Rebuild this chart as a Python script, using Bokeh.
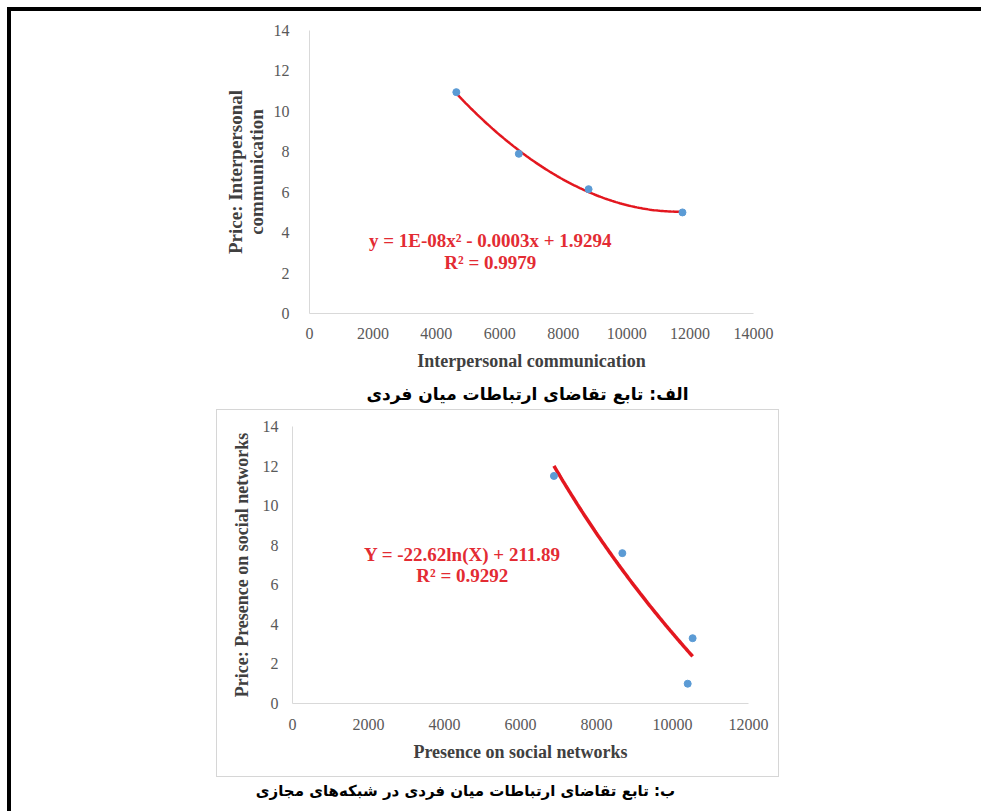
import numpy as np
from bokeh.plotting import figure
from bokeh.models import Range1d, FixedTicker, Label, Div, Spacer
from bokeh.layouts import column, row
from bokeh.core.properties import value
from bokeh.embed import file_html
from bokeh.resources import INLINE

# ---- (a) demand for interpersonal communication ----
comm_qty = [4630, 6600, 8800, 11760]
comm_price = [10.95, 7.9, 6.15, 5.0]
comm_x_ticks = [0, 2000, 4000, 6000, 8000, 10000, 12000, 14000]
comm_y_ticks = [0, 2, 4, 6, 8, 10, 12, 14]
comm_eq = "y = 1E-08x\u00b2 - 0.0003x + 1.9294"
comm_r2 = "R\u00b2 = 0.9979"
comm_caption = "الف: تابع تقاضای ارتباطات میان فردی"

# ---- (b) demand for presence on social networks ----
net_qty = [6880, 8680, 10530, 10400]
net_price = [11.5, 7.6, 3.3, 1.0]
net_log_coef = (-22.62, 211.89)
net_x_ticks = [0, 2000, 4000, 6000, 8000, 10000, 12000]
net_y_ticks = [0, 2, 4, 6, 8, 10, 12, 14]
net_eq = "Y = -22.62ln(X) + 211.89"
net_r2 = "R\u00b2 = 0.9292"
net_caption = "ب: تابع تقاضای ارتباطات میان فردی در شبکه\u200cهای مجازی"

SERIF = "Liberation Serif"
RED = "#e3171f"
EQ_RED = "#e32b33"
BLUE = "#5b9bd5"


def style_axes(p, x_std, y_std, xl_std, yl_std):
    p.xgrid.visible = False
    p.ygrid.visible = False
    p.outline_line_color = None
    for ax in p.axis:
        ax.axis_line_color = "#d9d9d9"
        ax.major_tick_line_color = None
        ax.minor_tick_line_color = None
        ax.major_label_text_font = SERIF
        ax.major_label_text_font_size = "16px"
        ax.major_label_text_color = "#595959"
        ax.axis_label_text_font = SERIF
        ax.axis_label_text_font_style = "bold"
        ax.axis_label_text_font_size = "18px"
        ax.axis_label_text_color = "#404040"
    p.xaxis.major_label_standoff = x_std
    p.yaxis.major_label_standoff = y_std
    p.xaxis.axis_label_standoff = xl_std
    p.yaxis.axis_label_standoff = yl_std


def caption_fig(text, size):
    c = figure(frame_width=600, frame_height=26, min_border=0,
               x_range=Range1d(0, 1), y_range=Range1d(0, 1),
               x_axis_location=None, y_axis_location=None,
               output_backend="svg", toolbar_location=None)
    c.xgrid.visible = False
    c.ygrid.visible = False
    c.outline_line_color = None
    c.text(x=[0.5], y=[0.5], text=[text], text_align="center",
           text_baseline="middle", text_font=value("DejaVu Sans"),
           text_font_style="bold", text_font_size=size, text_color="black")
    return c


# ---- chart (a) ----
p1 = figure(frame_width=444, frame_height=283,
            min_border_left=298, min_border_right=228,
            min_border_top=19, min_border_bottom=67,
            x_range=Range1d(0, 14000), y_range=Range1d(0, 14),
            output_backend="svg", toolbar_location=None)
style_axes(p1, 8, 14, 9, 4)
p1.xaxis.ticker = FixedTicker(ticks=comm_x_ticks)
p1.yaxis.ticker = FixedTicker(ticks=comm_y_ticks)
p1.xaxis.axis_label = "Interpersonal communication"
p1.yaxis.axis_label = "Price: Interpersonal\ncommunication"
p1.yaxis.axis_label_text_font_size = "19px"
p1.yaxis.axis_label_text_line_height = 1.0

# polynomial (order 2) trendline fitted to the observations
coef = np.polyfit(comm_qty, comm_price, 2)
fx = np.linspace(min(comm_qty), max(comm_qty), 120)
p1.line(fx, np.polyval(coef, fx), line_color=RED, line_width=2.5)
p1.scatter(comm_qty, comm_price, size=7, fill_color=BLUE, line_color=BLUE)
p1.add_layout(Label(x=5700, y=3.6, text=comm_eq, text_align="center",
                    text_baseline="middle", text_font=SERIF,
                    text_font_style="bold", text_font_size="19px",
                    text_color=EQ_RED))
p1.add_layout(Label(x=5700, y=2.52, text=comm_r2, text_align="center",
                    text_baseline="middle", text_font=SERIF,
                    text_font_style="bold", text_font_size="19px",
                    text_color=EQ_RED))

# ---- chart (b) ----
p2 = figure(frame_width=456, frame_height=277,
            min_border_left=75, min_border_right=30,
            min_border_top=16, min_border_bottom=73,
            x_range=Range1d(0, 12000), y_range=Range1d(0, 14),
            output_backend="svg", toolbar_location=None)
style_axes(p2, 9, 8, 9, 8)
p2.xaxis.ticker = FixedTicker(ticks=net_x_ticks)
p2.yaxis.ticker = FixedTicker(ticks=net_y_ticks)
p2.xaxis.axis_label = "Presence on social networks"
p2.yaxis.axis_label = "Price: Presence on social networks"

# logarithmic trendline from the reported coefficients
lx = np.linspace(min(net_qty), max(net_qty), 120)
p2.line(lx, net_log_coef[0] * np.log(lx) + net_log_coef[1],
        line_color=RED, line_width=3.5)
p2.scatter(net_qty, net_price, size=7, fill_color=BLUE, line_color=BLUE)
p2.add_layout(Label(x=4470, y=7.54, text=net_eq, text_align="center",
                    text_baseline="middle", text_font=SERIF,
                    text_font_style="bold", text_font_size="19px",
                    text_color=EQ_RED))
p2.add_layout(Label(x=4470, y=6.48, text=net_r2, text_align="center",
                    text_baseline="middle", text_font=SERIF,
                    text_font_style="bold", text_font_size="19px",
                    text_color=EQ_RED))


def bar(w, h, color):
    return Div(text="", width=w, height=h, margin=0,
               styles={"background-color": color})


GREY = "#d6d6d6"
boxed_p2 = column(
    bar(563, 1, GREY),
    row(bar(1, 366, GREY), p2, bar(1, 366, GREY), spacing=0),
    bar(563, 1, GREY),
    spacing=0,
)

content = column(
    p1,
    row(Spacer(width=216, height=26), caption_fig(comm_caption, "17px"), spacing=0),
    Spacer(width=10, height=3),
    row(Spacer(width=205, height=368), boxed_p2, spacing=0),
    row(Spacer(width=154, height=26), caption_fig(net_caption, "15px"), spacing=0),
    spacing=0,
)

page = column(
    Spacer(width=981, height=7),
    row(Spacer(width=7, height=4), bar(974, 4, "#000000"), spacing=0),
    row(Spacer(width=7, height=800), bar(4, 800, "#000000"), content, spacing=0),
    spacing=0,
)

open("out.html", "w").write(file_html(page, INLINE))
